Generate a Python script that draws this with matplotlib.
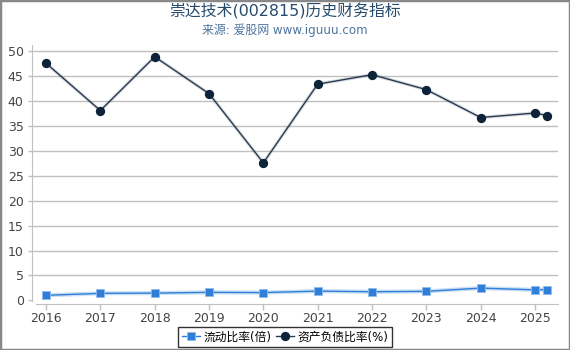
import matplotlib
matplotlib.use("Agg")
import matplotlib.pyplot as plt
from matplotlib.patches import Rectangle

plt.rcParams['font.family'] = ['DejaVu Sans', 'Noto Sans CJK SC']

# Data
x_pos = [2016, 2017, 2018, 2019, 2020, 2021, 2022, 2023, 2024, 2025, 2025.22]
current_ratio = [1.0, 1.4, 1.45, 1.6, 1.55, 1.85, 1.72, 1.8, 2.45, 2.1, 2.15]
debt_ratio = [47.6, 38.1, 48.9, 41.5, 27.6, 43.4, 45.3, 42.3, 36.7, 37.6, 37.1]
year_ticks = [2016, 2017, 2018, 2019, 2020, 2021, 2022, 2023, 2024, 2025]
y_ticks = [0, 5, 10, 15, 20, 25, 30, 35, 40, 45, 50]
title = "崇达技术(002815)历史财务指标"
subtitle = "来源: 爱股网 www.iguuu.com"
labels = ["流动比率(倍)", "资产负债比率(%)"]

blue = '#2f7ed8'
navy = '#0d233a'

fig = plt.figure(figsize=(5.7, 3.5), dpi=100)
ax = fig.add_axes([32/570, 1-304/350, (558-32)/570, (304-45)/350])

# halo lines
ax.plot(x_pos, current_ratio, color=blue, lw=3, alpha=0.25, zorder=2)
ax.plot(x_pos, debt_ratio, color=navy, lw=2.5, alpha=0.15, zorder=2)
l1, = ax.plot(x_pos, current_ratio, color=blue, lw=1, marker='s', markersize=5.6,
              markerfacecolor=blue, markeredgecolor='#8fbcee', markeredgewidth=0.6,
              label=labels[0], zorder=3)
l2, = ax.plot(x_pos, debt_ratio, color='#2a3a50', lw=1, marker='o', markersize=5.7,
              markerfacecolor=navy, markeredgecolor=navy, label=labels[1], zorder=3)

ax.set_xlim(2015.742, 2025.423)
ax.set_ylim(-0.74, 51.26)
ax.set_xticks(year_ticks)
ax.set_xticklabels([str(y) for y in year_ticks])
ax.set_yticks(y_ticks)

ax.yaxis.grid(True, color='#c0c0c0', lw=1)
ax.yaxis.get_gridlines()[0].set_visible(False)
ax.set_axisbelow(True)

for s in ['top', 'right']:
    ax.spines[s].set_visible(False)
ax.spines['left'].set_color('#c0c0c0')
ax.spines['bottom'].set_color('#c0c0c0')
ax.spines['left'].set_bounds(-0.1, 51.26)
ax.spines['bottom'].set_bounds(2015.82, 2025.423)

ax.tick_params(axis='both', colors='#c0c0c0', labelcolor='#444444', labelsize=9,
               length=4, width=1)
ax.tick_params(axis='y', length=3, pad=3)
ax.tick_params(axis='x', pad=2)

fig.text(0.5, 1-11.5/350, title, ha='center', va='center', fontsize=11.4, color='#274b6d')
fig.text(0.5, 1-30.5/350, subtitle, ha='center', va='center', fontsize=8.6, color='#4d759e')

leg = fig.legend(handles=[l1, l2], labels=labels, loc='lower center',
                 bbox_to_anchor=(0.5, -0.008), ncol=2, fontsize=8.5, frameon=True,
                 fancybox=False, edgecolor='black', handlelength=1.5, handletextpad=0.3,
                 columnspacing=0.4, borderpad=0.3)
leg.get_frame().set_linewidth(1)

fig.patches.append(Rectangle((0, 0), 1, 1, transform=fig.transFigure, fill=False,
                             edgecolor='#888888', lw=2.5, zorder=10))

fig.savefig('out.png', dpi=100)
